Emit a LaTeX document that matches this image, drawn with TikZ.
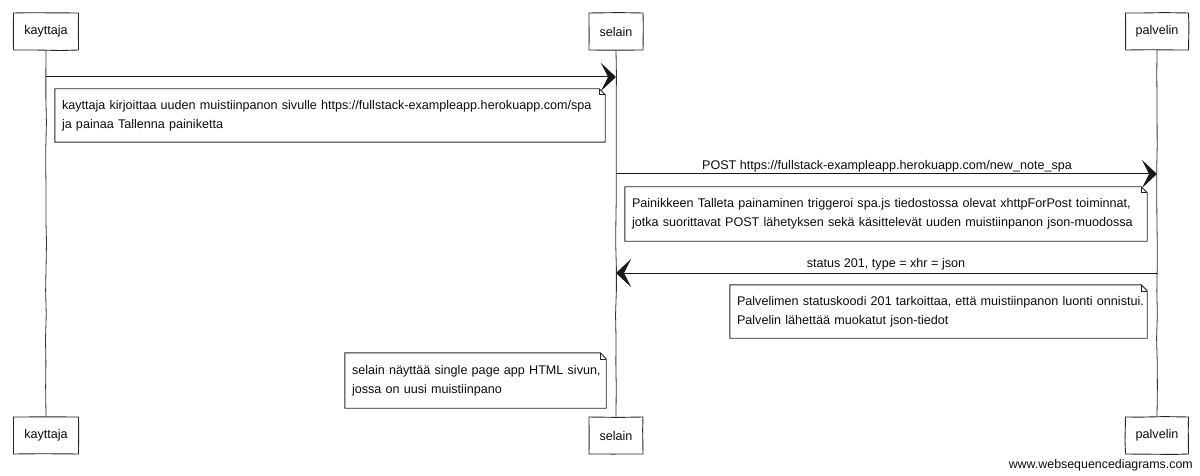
\documentclass[tikz,border=0pt]{standalone}
\usepackage{fontspec}
\setmainfont{Liberation Sans}
\usetikzlibrary{arrows.meta,calc,decorations.pathmorphing}

% folded-corner note frame drawn around a named node
\newcommand\notepaper[1]{%
  \draw[ink] (#1.north west) -- ($(#1.north east)+(-6,0)$) -- ($(#1.north east)+(0,6)$)
    -- (#1.south east) -- (#1.south west) -- cycle;
  \draw[ink, line width=0.6pt] ($(#1.north east)+(-6,0)$) -- ($(#1.north east)+(-6,6)$) -- ($(#1.north east)+(0,6)$);
}

\begin{document}
\begin{tikzpicture}[x=1pt,y=-1pt,
  font=\fontsize{12.6}{19}\selectfont,
  ink/.style={draw=black!85, line width=0.9pt},
  sketch/.style={decorate, decoration={random steps, segment length=24pt, amplitude=0.5pt}},
  actor/.style={ink, sketch, fill=white, minimum height=37pt, inner xsep=0pt, text=black!95},
  life/.style={draw=black!80, line width=0.8pt},
  msg/.style={draw=black!90, line width=1pt, -{Stealth[length=15pt,width=28pt,inset=7pt]}},
  lbl/.style={anchor=base, inner sep=0pt, text=black!95},
  note/.style={align=left, inner xsep=7pt, inner ysep=0pt, text=black!95},
]
\useasboundingbox (0,0) rectangle (1200,476);

% participants, top and bottom
\node[actor, minimum width=65pt] (k1) at (46,31.5) {kayttaja};
\node[actor, minimum width=54pt] (s1) at (616,31.5) {selain};
\node[actor, minimum width=63pt] (p1) at (1157,31.5) {palvelin};
\node[actor, minimum width=65pt] (k2) at (46,435.5) {kayttaja};
\node[actor, minimum width=54pt] (s2) at (616,435.5) {selain};
\node[actor, minimum width=63pt] (p2) at (1157,435.5) {palvelin};

% lifelines
\draw[life, sketch] (k1.south) -- (k2.north);
\draw[life, sketch] (s1.south) -- (s2.north);
\draw[life, sketch] (p1.south) -- (p2.north);

% message levels
\coordinate (m1) at (0,77);
\coordinate (m2) at (0,174);
\coordinate (m3) at (0,273);

% messages
\draw[msg] (k1 |- m1) -- (s1 |- m1);
\draw[msg] (s1 |- m2) -- (p1 |- m2);
\draw[msg] (p1 |- m3) -- (s1 |- m3);

\node[lbl] (l2) at (887,170) {POST https://fullstack-exampleapp.herokuapp.com/new\_note\_spa};
\node[lbl] (l3) at (886,267) {status 201, type = xhr = json};

% notes
\node[note, minimum height=53pt, text width=536pt] (n1) at (330,115.5)
  {\mbox{kayttaja kirjoittaa uuden muistiinpanon sivulle https://fullstack-exampleapp.herokuapp.com/spa}\\\mbox{ja painaa Tallenna painiketta}};
\notepaper{n1}

\node[note, minimum height=54pt, text width=508pt] (n2) at (886,214)
  {\mbox{Painikkeen Talleta painaminen triggeroi spa.js tiedostossa olevat xhttpForPost toiminnat,}\\\mbox{jotka suorittavat POST lähetyksen sekä käsittelevät uuden muistiinpanon json-muodossa}};
\notepaper{n2}

\node[note, minimum height=53pt, text width=403pt] (n3) at (938.5,311.5)
  {\mbox{Palvelimen statuskoodi 201 tarkoittaa, että muistiinpanon luonti onnistui.}\\\mbox{Palvelin lähettää muokatut json-tiedot}};
\notepaper{n3}

\node[note, minimum height=55pt, text width=247pt] (n4) at (475.5,380.5)
  {\mbox{selain näyttää single page app HTML sivun,}\\\mbox{jossa on uusi muistiinpano}};
\notepaper{n4}

% footer
\node[anchor=base east, inner sep=0pt, text=black!95, font=\fontsize{12.4}{14}\selectfont] (wm) at (1193,468) {www.websequencediagrams.com};
\end{tikzpicture}
\end{document}
